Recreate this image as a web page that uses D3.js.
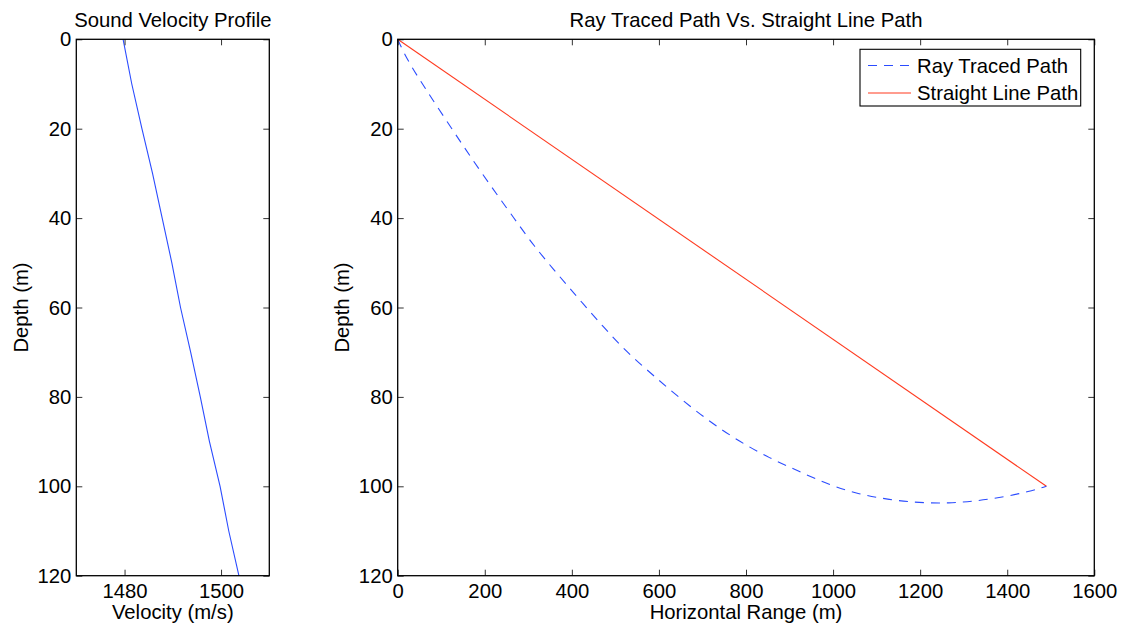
<!DOCTYPE html>
<html>
<head>
<meta charset="utf-8">
<script src="https://cdn.jsdelivr.net/npm/d3@7"></script>
<style>
  body { margin: 0; background: #fff; }
  svg { font-family: "Liberation Sans", Arial, sans-serif; }
</style>
</head>
<body>
<div id="chart"></div>
<script>
// sound velocity profile, every 10 m
var svpDepth = [0, 10, 20, 30, 40, 50, 60, 70, 80, 90, 100, 110, 120];
var svpVelocity = [1479.7, 1481.5, 1483.6, 1485.8, 1487.8, 1489.8, 1491.6, 1493.7, 1495.7, 1497.6, 1499.8, 1501.6, 1503.7];

// ray traced path (dashed)
var rayRange = [0, 20, 63, 131, 193, 273, 311, 365, 418, 472, 525, 586, 648, 716, 785, 854, 923, 991, 1060, 1129, 1198, 1266, 1330, 1397, 1450, 1490];
var rayDepth = [0, 4.3, 11, 21, 30, 40.8, 46, 52.3, 58.3, 64.3, 69.9, 75.1, 80.3, 85.5, 90, 93.7, 96.7, 99.7, 101.8, 103, 103.7, 103.8, 103.3, 102.3, 101.2, 100];

// straight line path
var lineRange = [0, 1490];
var lineDepth = [0, 100];

var depthTicks = [0, 20, 40, 60, 80, 100, 120];
var velocityTicks = [1480, 1500];
var rangeTicks = [0, 200, 400, 600, 800, 1000, 1200, 1400, 1600];

var blue = "#2b4cff", red = "#ff3a1f";
var fontSize = "20.3px";

var svg = d3.select("#chart")
    .append("svg")
    .attr("width", 1124)
    .attr("height", 627);

var plotTop = 39.3, plotBottom = 575.7;

var y = d3.scaleLinear().domain([0, 120]).range([plotTop, plotBottom]);

function drawFrame(g, x, xTicks, left, right, xLabel, yLabelX, title) {
    // bottom + left axes with inward ticks
    g.append("g")
        .attr("transform", "translate(0," + plotBottom + ")")
        .call(d3.axisBottom(x).tickValues(xTicks).tickFormat(d3.format("d"))
            .tickSize(-6).tickPadding(8.3).tickSizeOuter(0));
    g.append("g")
        .attr("transform", "translate(" + left + ",0)")
        .call(d3.axisLeft(y).tickValues(depthTicks).tickFormat(d3.format("d"))
            .tickSize(-6).tickPadding(5).tickSizeOuter(0));
    // mirrored ticks on top and right, no labels
    g.append("g")
        .attr("transform", "translate(0," + plotTop + ")")
        .call(d3.axisTop(x).tickValues(xTicks).tickSize(-6).tickFormat("").tickSizeOuter(0));
    g.append("g")
        .attr("transform", "translate(" + right + ",0)")
        .call(d3.axisRight(y).tickValues(depthTicks).tickSize(-6).tickFormat("").tickSizeOuter(0));

    g.selectAll(".domain").remove();
    g.selectAll(".tick line").attr("stroke", "#333");
    g.selectAll(".tick text")
        .attr("font-size", fontSize)
        .attr("font-family", "Liberation Sans, Arial, sans-serif")
        .attr("fill", "#000");

    g.append("rect")
        .attr("x", left)
        .attr("y", plotTop)
        .attr("width", right - left)
        .attr("height", plotBottom - plotTop)
        .attr("fill", "none")
        .attr("stroke", "#000")
        .attr("stroke-width", 1.3);

    g.append("text")
        .attr("x", (left + right) / 2)
        .attr("y", 619.3)
        .attr("text-anchor", "middle")
        .attr("font-size", fontSize)
        .text(xLabel);

    g.append("text")
        .attr("transform", "translate(" + yLabelX + "," + ((plotTop + plotBottom) / 2) + ") rotate(-90)")
        .attr("text-anchor", "middle")
        .attr("font-size", fontSize)
        .text("Depth (m)");

    g.append("text")
        .attr("x", (left + right) / 2)
        .attr("y", 26.5)
        .attr("text-anchor", "middle")
        .attr("font-size", fontSize)
        .text(title);
}

// left panel: sound velocity profile
var xV = d3.scaleLinear().domain([1470, 1510]).range([76.3, 269.3]);
var leftG = svg.append("g");

leftG.append("path")
    .datum(d3.zip(svpVelocity, svpDepth))
    .attr("fill", "none")
    .attr("stroke", blue)
    .attr("stroke-width", 1.1)
    .attr("d", d3.line().x(function (d) { return xV(d[0]); }).y(function (d) { return y(d[1]); }));

drawFrame(leftG, xV, velocityTicks, 76.3, 269.3, "Velocity (m/s)", 28, "Sound Velocity Profile");

// right panel: ray traced vs straight line
var xR = d3.scaleLinear().domain([0, 1600]).range([397.7, 1094.3]);
var rightG = svg.append("g");

rightG.append("path")
    .datum(d3.zip(lineRange, lineDepth))
    .attr("fill", "none")
    .attr("stroke", red)
    .attr("stroke-width", 1.1)
    .attr("d", d3.line().x(function (d) { return xR(d[0]); }).y(function (d) { return y(d[1]); }));

// basis curve evens out the small reading errors
rightG.append("path")
    .datum(d3.zip(rayRange, rayDepth))
    .attr("fill", "none")
    .attr("stroke", blue)
    .attr("stroke-width", 1.1)
    .attr("stroke-dasharray", "9,7")
    .attr("d", d3.line().curve(d3.curveBasis)
        .x(function (d) { return xR(d[0]); }).y(function (d) { return y(d[1]); }));

drawFrame(rightG, xR, rangeTicks, 397.7, 1094.3, "Horizontal Range (m)", 349, "Ray Traced Path Vs. Straight Line Path");

// legend
var legend = svg.append("g");
legend.append("rect")
    .attr("x", 860).attr("y", 49.3)
    .attr("width", 220.7).attr("height", 56.7)
    .attr("fill", "#fff")
    .attr("stroke", "#000")
    .attr("stroke-width", 1.1);

var legendItems = [
    {name: "Ray Traced Path", color: blue, dash: "9,7", yy: 65.5},
    {name: "Straight Line Path", color: red, dash: null, yy: 93}
];
legendItems.forEach(function (it) {
    legend.append("line")
        .attr("x1", 868).attr("x2", 911)
        .attr("y1", it.yy).attr("y2", it.yy)
        .attr("stroke", it.color)
        .attr("stroke-width", 1.1)
        .attr("stroke-dasharray", it.dash);
    legend.append("text")
        .attr("x", 917)
        .attr("y", it.yy + 7)
        .attr("font-size", fontSize)
        .text(it.name);
});
</script>
</body>
</html>
